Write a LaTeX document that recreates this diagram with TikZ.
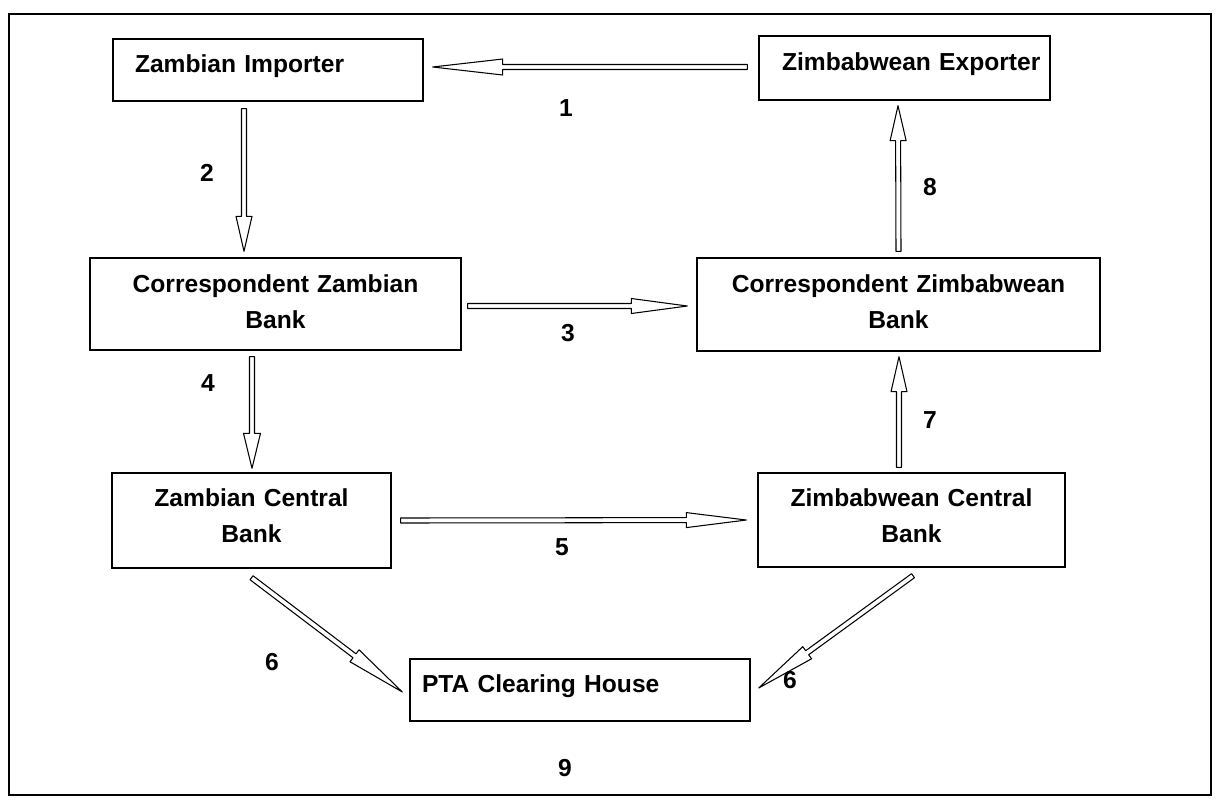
\documentclass[tikz,border=0pt]{standalone}
\usepackage{fontspec}
\setmainfont{Liberation Sans}
\usetikzlibrary{calc}
\newcommand{\boxfont}{\fontsize{14}{21}\selectfont\bfseries}
\newcommand{\hollowarrow}[4]{%
  \path #1 coordinate (ha-a) #2 coordinate (ha-b);
  \path ($(ha-b)!#3!(ha-a)$) coordinate (ha-c);
  \draw[arrline] ($(ha-a)!0.05cm!90:(ha-b)$) -- ($(ha-c)!0.05cm!90:(ha-b)$)
    -- ($(ha-c)!#4!90:(ha-b)$) -- (ha-b) -- ($(ha-c)!#4!-90:(ha-b)$)
    -- ($(ha-c)!0.05cm!-90:(ha-b)$) -- ($(ha-a)!0.05cm!-90:(ha-b)$) -- cycle;
}
\begin{document}
\begin{tikzpicture}[
    x=0.02cm, y=-0.02cm,
    box/.style={rectangle, draw, line width=0.8pt, inner xsep=0pt, inner ysep=0pt, font=\boxfont},
    num/.style={font=\boxfont, inner sep=0pt},
    arrline/.style={draw, fill=white, line width=0.6pt, line join=round},
    frame/.style={draw, line width=1.1pt},
]
\useasboundingbox (0,0) rectangle (1219,802);
\draw[frame] (9,14) rectangle (1211,795);

\node[box, minimum width=6.2cm, text width=5.32cm, align=left, text height=0.66cm, text depth=0.58cm] (imp) at (268,70) {Zambian Importer};
\node[box, minimum width=5.82cm, text width=4.9cm, align=left, text height=0.68cm, text depth=0.6cm] (exp) at (904.5,68) {\mbox{Zimbabwean Exporter}};
\node[box, minimum width=7.42cm, text width=7.2cm, align=center, text height=0.68cm, text depth=1.16cm] (corrZa) at (275.5,304) {Correspondent Zambian\\Bank};
\node[box, minimum width=8.06cm, text width=7.8cm, align=center, text height=0.68cm, text depth=1.18cm] (corrZi) at (898.5,304.5) {Correspondent Zimbabwean\\Bank};
\node[box, minimum width=5.58cm, text width=5.4cm, align=center, text height=0.66cm, text depth=1.24cm] (zaCB) at (251.5,520.5) {Zambian Central\\Bank};
\node[box, minimum width=6.14cm, text width=5.9cm, align=center, text height=0.66cm, text depth=1.22cm] (ziCB) at (911.5,520) {Zimbabwean Central\\Bank};
\node[box, minimum width=6.8cm, text width=6.32cm, align=left, text height=0.66cm, text depth=0.58cm] (pta) at (580,690) {PTA Clearing House};

\hollowarrow{($(exp.west)+(-11,-1)$)}{($(imp.east)+(9,-3)$)}{1.4cm}{0.16cm}
\hollowarrow{($(imp.south)+(-24,7)$)}{($(corrZa.north)+(-31.5,-6)$)}{0.7cm}{0.16cm}
\hollowarrow{($(corrZa.east)+(6,2)$)}{($(corrZi.west)+(-9,1.5)$)}{1.12cm}{0.15cm}
\hollowarrow{($(corrZa.south)+(-23.5,6)$)}{($(zaCB.north)+(0.5,-4)$)}{0.7cm}{0.17cm}
\hollowarrow{($(zaCB.east)+(9,0)$)}{($(ziCB.west)+(-11,0)$)}{1.2cm}{0.15cm}
\hollowarrow{($(zaCB.south)+(0,9)$)}{($(pta.west)+(-7,2)$)}{1.2cm}{0.15cm}
\hollowarrow{($(ziCB.south)+(1.5,8)$)}{($(pta.east)+(8,-2)$)}{1.2cm}{0.15cm}
\hollowarrow{($(ziCB.north)+(-12.5,-5)$)}{($(corrZi.south)+(0.5,5)$)}{0.7cm}{0.16cm}
\hollowarrow{($(corrZi.north)+(0,-6)$)}{($(exp.south)+(-6.5,5)$)}{0.7cm}{0.16cm}

\node[num] (n1) at (566,108) {1};
\node[num] (n2) at (207,173) {2};
\node[num] (n3) at (568,333) {3};
\node[num] (n4) at (208,383) {4};
\node[num] (n5) at (562,547) {5};
\node[num] (n6a) at (272,662) {6};
\node[num] (n6b) at (790,680) {6};
\node[num] (n7) at (930,420) {7};
\node[num] (n8) at (930,187) {8};
\node[num] (n9) at (565,768) {9};
\end{tikzpicture}
\end{document}
